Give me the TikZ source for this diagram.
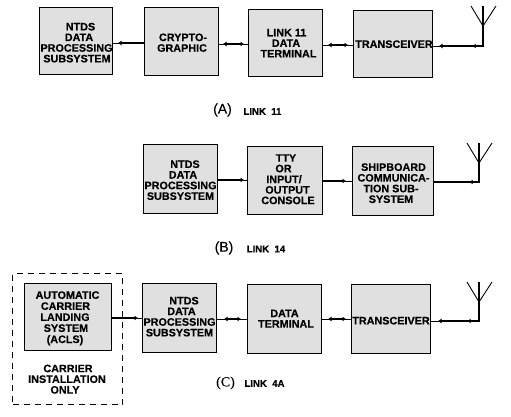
\documentclass[tikz,border=0pt]{standalone}
\usepackage{fontspec}
\setmainfont{Liberation Sans}[BoldFeatures={FakeBold=0.35}]
\newfontfamily\capserif[FakeBold=0.2]{Liberation Serif}
\newfontfamily\capsans[FakeBold=0.2]{Liberation Sans}
\usetikzlibrary{arrows.meta,calc}
\tikzset{
  blockbox/.style={draw=black,line width=0.9pt,fill=black!12,inner sep=0pt,
    font=\fontsize{10.8}{10.5}\selectfont\bfseries},
  plain/.style={inner sep=0pt,font=\fontsize{10.8}{10.5}\selectfont\bfseries},
  caption/.style={inner sep=0pt,font=\fontsize{14}{14}\selectfont\capsans},
  sublabel/.style={inner sep=0pt,font=\fontsize{9.6}{11}\selectfont\bfseries},
  fine/.style={line width=0.9pt},
  heavy/.style={line width=2.2pt},
  hh/.style={>={Latex[length=3.5pt,width=5pt]}},
  arm/.style={line width=0.9pt},
}
% one text line with a sideways offset
\newcommand{\rowtxt}[2]{\makebox[0pt]{\hspace*{\dimexpr 2\dimexpr#1pt\relax\relax}#2}}
% stacked lines moved down by dy
\newcommand{\stacktxt}[2]{\vbox{\kern\dimexpr 3.4pt+2\dimexpr#1pt\relax\relax\hbox{\begin{tabular}{@{}c@{}}#2\end{tabular}}}}
% box: name, left, top, right, bottom, text dy, text
\newcommand{\blockat}[7]{\node[blockbox,minimum width={#4-#2-0.9pt},minimum height={#5-#3-0.9pt}] (#1) at ({(#2+#4)/2},{(#3+#5)/2}) {\stacktxt{#6}{#7}};}
% link: from, to, y, tips, shorten start, shorten end
\newcommand{\linkat}[6]{%
  \draw[fine] (#1.east |- 0,#3) -- (#2.west |- 0,#3);
  \draw[heavy,hh,#4,shorten <=#5pt,shorten >=#6pt] (#1.east |- 0,#3) -- (#2.west |- 0,#3);}
% antenna: name, x, foot y, hub y, top y
\newcommand{\antennaat}[5]{%
  \coordinate (#1foot) at (#2,#3);
  \coordinate (#1hub) at (#2,#4);
  \coordinate (#1top) at (#2,#5);
  \coordinate (#1l) at ({#2-12},#5);
  \coordinate (#1r) at ({#2+13},#5);
  \draw[heavy] (#1foot) -- (#1hub);
  \draw[line width=1.4pt] (#1hub) -- (#1top);
  \draw[arm] (#1l) -- (#1hub) -- (#1r);}
% feed from a box to an antenna foot: box, antenna, tips, shorten start, shorten end
\newcommand{\feedat}[5]{%
  \draw[fine] (#1.east |- #2foot) -- (#2foot);
  \draw[heavy] ($(#2foot)+(-8,0)$) -- ($(#2foot)+(1,0)$);
  \draw[heavy,hh,#3,shorten <=#4pt,shorten >=#5pt] (#1.east |- #2foot) -- (#2foot);}
\begin{document}
\begin{tikzpicture}[x=1pt,y=-1pt]
\useasboundingbox[fill=white] (0,0) rectangle (511,416);
% Row A
\blockat{aa}{39}{7}{113}{75}{1.5}{\rowtxt{4.5}{NTDS}\\\rowtxt{3}{DATA}\\\rowtxt{0.5}{PROCESSING}\\\rowtxt{1}{SUBSYSTEM}}
\blockat{ab}{144}{7}{219}{76}{1}{\rowtxt{1.5}{CRYPTO-}\\\rowtxt{0.5}{GRAPHIC}}
\blockat{ac}{248}{9}{323}{77}{0}{\rowtxt{1}{LINK 11}\\\rowtxt{0.5}{DATA}\\\rowtxt{3}{TERMINAL}}
\blockat{ad}{353}{10}{433}{78}{0}{\rowtxt{1}{TRANSCEIVER}}
\linkat{aa}{ab}{43}{<-}{5}{0}
\linkat{ab}{ac}{44}{<->}{4}{4}
\linkat{ac}{ad}{45}{<->}{5}{5}
\antennaat{ax}{483}{46}{26}{6}
\feedat{ad}{ax}{<->}{6}{5}
\node[caption] (acap) at (222.5,110) {(A)};
\node[sublabel] (alab) at (262.5,111.5) {LINK\ \ 11};
% Row B
\blockat{ba}{143}{144}{218}{214}{1}{\rowtxt{4.5}{NTDS}\\\rowtxt{2.5}{DATA}\\\rowtxt{0}{PROCESSING}\\\rowtxt{0}{SUBSYSTEM}}
{\def\arraystretch{0.95}\blockat{bb}{247}{146}{323}{215}{-1.5}{\rowtxt{1}{TTY}\\\rowtxt{-1.5}{OR}\\\rowtxt{-1}{INPUT/}\\\rowtxt{2.5}{OUTPUT}\\\rowtxt{3}{CONSOLE}}}
\blockat{bc}{352}{146}{434}{216}{2}{\rowtxt{0.5}{SHIPBOARD}\\\rowtxt{0.5}{COMMUNICA-}\\\rowtxt{-2}{TION SUB-}\\\rowtxt{-2}{SYSTEM}}
\linkat{ba}{bb}{180}{->}{0}{3}
\linkat{bb}{bc}{181}{->}{0}{6}
\antennaat{bx}{479}{182}{163}{143}
\feedat{bc}{bx}{->}{0}{4}
\node[caption] (bcap) at (224,248) {(B)};
\node[sublabel] (blab) at (266,249) {LINK\ \ 14};
% Row C
\node[draw=black,dash pattern=on 6pt off 5pt,line width=0.9pt,minimum width=110pt,minimum height=131pt,inner sep=0pt] (frame) at (67.5,339) {};
{\def\arraystretch{1.05}\blockat{ca}{24}{283}{112}{351}{0}{\rowtxt{-0.5}{AUTOMATIC}\\\rowtxt{-2.5}{CARRIER}\\\rowtxt{-3}{LANDING}\\\rowtxt{-2}{SYSTEM}\\\rowtxt{-3}{(ACLS)}}}
\node[plain] (inst) at (66,379) {\stacktxt{0}{\rowtxt{2}{CARRIER}\\\rowtxt{1}{INSTALLATION}\\\rowtxt{-1}{ONLY}}};
\blockat{cb}{142}{283}{217}{353}{-1.5}{\rowtxt{4.5}{NTDS}\\\rowtxt{2}{DATA}\\\rowtxt{0}{PROCESSING}\\\rowtxt{0}{SUBSYSTEM}}
\blockat{cc}{247}{284}{322}{354}{-0.5}{\rowtxt{0}{DATA}\\\rowtxt{1.5}{TERMINAL}}
\blockat{cd}{351}{284}{431}{354}{1.5}{\rowtxt{0}{TRANSCEIVER}}
\linkat{ca}{cb}{318}{->}{0}{4}
\linkat{cb}{cc}{319}{<->}{7}{6}
\linkat{cc}{cd}{319}{<->}{6}{5}
\antennaat{cx}{479}{321}{302}{282}
\feedat{cd}{cx}{<->}{7}{6}
\node[caption,font=\fontsize{14}{14}\selectfont\capserif] (ccap) at (225.5,383) {(C)};
\node[sublabel] (clab) at (264.5,383.5) {LINK\ \ 4A};
\end{tikzpicture}
\end{document}
